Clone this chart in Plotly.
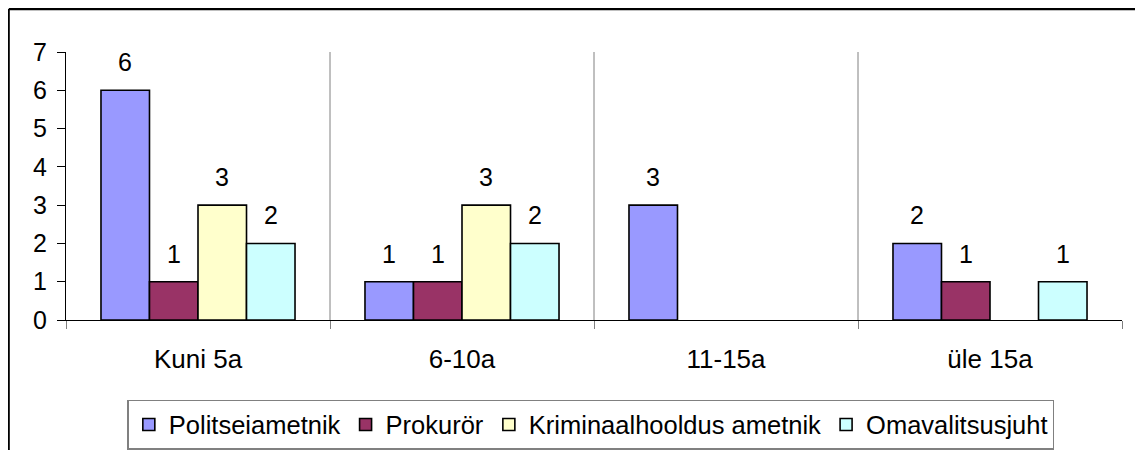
import plotly.graph_objects as go

categories = ["Kuni 5a", "6-10a", "11-15a", "üle 15a"]
series_names = ["Politseiametnik", "Prokurör", "Kriminaalhooldus ametnik", "Omavalitsusjuht"]
politseiametnik = [6, 1, 3, 2]
prokuror = [1, 1, 0, 1]
kriminaalhooldus = [3, 3, 0, 0]
omavalitsusjuht = [2, 2, 0, 1]
y_ticks = [0, 1, 2, 3, 4, 5, 6, 7]

series_values = [politseiametnik, prokuror, kriminaalhooldus, omavalitsusjuht]
colors = ["#9999FF", "#993366", "#FFFFCC", "#CCFFFF"]

FONT = "Liberation Sans, Arial, sans-serif"
bargap = 0.265
n_series = len(series_values)

W, H = 1135, 442
ML, MR, MT, MB = 58, 21, 44, 130
PW, PH = W - ML - MR, H - MT - MB

fig = go.Figure()
for name, vals, col in zip(series_names, series_values, colors):
    fig.add_trace(go.Bar(
        name=name, x=categories, y=[v if v != 0 else None for v in vals],
        marker=dict(color=col, line=dict(color="black", width=1.6)),
    ))

# value labels above bars (skip zeros)
annotations = []
bw = (1 - bargap) / n_series
for j, vals in enumerate(series_values):
    for i, v in enumerate(vals):
        if v == 0:
            continue
        xc = i - (1 - bargap) / 2 + (j + 0.5) * bw
        annotations.append(dict(
            x=xc, y=v, xref="x", yref="y", text=str(v), showarrow=False,
            yanchor="bottom", yshift=12, font=dict(size=25, color="black", family=FONT),
        ))

shapes = []
for i in range(len(categories) - 1):
    shapes.append(dict(type="line", xref="x", yref="y", x0=i + 0.5, x1=i + 0.5,
                       y0=0, y1=max(y_ticks), line=dict(color="#808080", width=1)))
# outer chart border (figure edges)
bx0 = (0.8 - ML) / PW
bx1 = (W - 1 - ML) / PW
by1 = (PH + MT - 1) / PH
by0 = -(MB + 10) / PH
shapes.append(dict(type="line", xref="paper", yref="paper", x0=bx0, x1=bx1,
                   y0=by1, y1=by1, line=dict(color="black", width=2.5)))
shapes.append(dict(type="line", xref="paper", yref="paper", x0=bx0, x1=bx0,
                   y0=by0, y1=by1, line=dict(color="black", width=2)))
shapes.append(dict(type="line", xref="paper", yref="paper", x0=bx1, x1=bx1,
                   y0=by0, y1=by1, line=dict(color="#808080", width=2)))

fig.update_layout(
    width=W, height=H,
    margin=dict(l=ML, r=MR, t=MT, b=MB, autoexpand=False),
    paper_bgcolor="white", plot_bgcolor="white",
    barmode="group", bargap=bargap, bargroupgap=0,
    font=dict(family=FONT, size=26, color="black"),
    showlegend=True,
    legend=dict(orientation="h", x=0.497, xanchor="center", y=-0.298, yanchor="top",
                bordercolor="#808080", borderwidth=1.5, bgcolor="white",
                font=dict(size=25.5), itemwidth=30, traceorder="normal"),
    annotations=annotations,
    shapes=shapes,
    xaxis=dict(
        type="category", showgrid=False, showline=True, linecolor="black", linewidth=1,
        ticks="outside", tickson="boundaries", ticklen=8, tickcolor="#808080",
        ticklabelstandoff=16, tickfont=dict(size=26), range=[-0.5, 3.5],
    ),
    yaxis=dict(
        range=[0, 7], tickvals=y_ticks, showgrid=False, zeroline=False,
        showline=True, linecolor="black", linewidth=1,
        ticks="outside", ticklen=8, tickcolor="black", tickfont=dict(size=25),
        ticklabelstandoff=5,
    ),
)

fig.write_html("out.html")
